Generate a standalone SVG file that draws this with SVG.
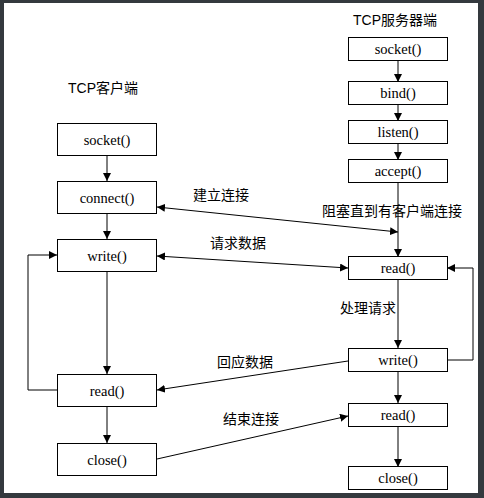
<svg xmlns="http://www.w3.org/2000/svg" width="484" height="498" viewBox="0 0 484 498">
<defs>
<style>
.box{fill:#fff;stroke:#000;stroke-width:1}
.bt{font-family:"Liberation Serif",serif;font-size:14.5px;text-anchor:middle;fill:#000}
.lb{font-family:"Liberation Sans","Noto Sans CJK SC",sans-serif;font-size:14px;fill:#000}
.ln{fill:none;stroke:#000;stroke-width:1}
</style>
<marker id="ah" viewBox="0 0 10 10" refX="10" refY="5" markerWidth="8" markerHeight="8" markerUnits="userSpaceOnUse" orient="auto-start-reverse">
<path d="M0,0 L10,5 L0,10 z" fill="#000"/>
</marker>
</defs>
<rect x="0" y="0" width="484" height="498" fill="#34393e"/>
<rect x="4" y="3" width="474" height="490" fill="#fff"/>

<text class="lb" x="353" y="25">TCP服务器端</text>
<text class="lb" x="68" y="93">TCP客户端</text>

<g id="connectors">
<line class="ln" x1="107" y1="155" x2="107" y2="181" marker-end="url(#ah)"/>
<line class="ln" x1="107" y1="213" x2="107" y2="239" marker-end="url(#ah)"/>
<line class="ln" x1="107" y1="272" x2="107" y2="374" marker-end="url(#ah)"/>
<line class="ln" x1="107" y1="407" x2="107" y2="443" marker-end="url(#ah)"/>
<polyline class="ln" points="57,390 28,390 28,255 57,255" marker-end="url(#ah)"/>
<line class="ln" x1="398" y1="61" x2="398" y2="82" marker-end="url(#ah)"/>
<line class="ln" x1="398" y1="104" x2="398" y2="121" marker-end="url(#ah)"/>
<line class="ln" x1="398" y1="144" x2="398" y2="160" marker-end="url(#ah)"/>
<line class="ln" x1="398" y1="183" x2="398" y2="257" marker-end="url(#ah)"/>
<line class="ln" x1="398" y1="280" x2="398" y2="348" marker-end="url(#ah)"/>
<line class="ln" x1="398" y1="372" x2="398" y2="403" marker-end="url(#ah)"/>
<line class="ln" x1="398" y1="427" x2="398" y2="467" marker-end="url(#ah)"/>
<polyline class="ln" points="447,360 473,360 473,268 447,268" marker-end="url(#ah)"/>
<line class="ln" x1="157" y1="207" x2="398" y2="232" marker-start="url(#ah)" marker-end="url(#ah)"/>
<line class="ln" x1="157" y1="256" x2="348" y2="268" marker-start="url(#ah)" marker-end="url(#ah)"/>
<line class="ln" x1="348" y1="361" x2="157" y2="390" marker-end="url(#ah)"/>
<line class="ln" x1="157" y1="459" x2="348" y2="416" marker-end="url(#ah)"/>
</g>

<text class="lb" x="193" y="200">建立连接</text>
<text class="lb" x="322" y="216">阻塞直到有客户端连接</text>
<text class="lb" x="210" y="248">请求数据</text>
<text class="lb" x="340" y="313">处理请求</text>
<text class="lb" x="217" y="367">回应数据</text>
<text class="lb" x="223" y="424">结束连接</text>

<g id="c_socket"><rect class="box" x="57.5" y="123.5" width="99" height="32"/><text class="bt" x="107" y="144.5">socket()</text></g>
<g id="c_connect"><rect class="box" x="57.5" y="181.5" width="99" height="32"/><text class="bt" x="107" y="202.5">connect()</text></g>
<g id="c_write"><rect class="box" x="57.5" y="239.5" width="99" height="32"/><text class="bt" x="107" y="260.5">write()</text></g>
<g id="c_read"><rect class="box" x="57.5" y="374.5" width="99" height="32"/><text class="bt" x="107" y="395.5">read()</text></g>
<g id="c_close"><rect class="box" x="57.5" y="443.5" width="99" height="32"/><text class="bt" x="107" y="464.5">close()</text></g>

<g id="s_socket"><rect class="box" x="348.5" y="37.5" width="99" height="23"/><text class="bt" x="398" y="54">socket()</text></g>
<g id="s_bind"><rect class="box" x="348.5" y="81.5" width="99" height="23"/><text class="bt" x="398" y="98">bind()</text></g>
<g id="s_listen"><rect class="box" x="348.5" y="120.5" width="99" height="23"/><text class="bt" x="398" y="137">listen()</text></g>
<g id="s_accept"><rect class="box" x="348.5" y="159.5" width="99" height="23"/><text class="bt" x="398" y="176">accept()</text></g>
<g id="s_read"><rect class="box" x="348.5" y="256.5" width="99" height="23"/><text class="bt" x="398" y="273">read()</text></g>
<g id="s_write"><rect class="box" x="348.5" y="348.5" width="99" height="23"/><text class="bt" x="398" y="365">write()</text></g>
<g id="s_read2"><rect class="box" x="348.5" y="403.5" width="99" height="23"/><text class="bt" x="398" y="420">read()</text></g>
<g id="s_close"><rect class="box" x="348.5" y="466.5" width="99" height="23"/><text class="bt" x="398" y="483">close()</text></g>
</svg>
